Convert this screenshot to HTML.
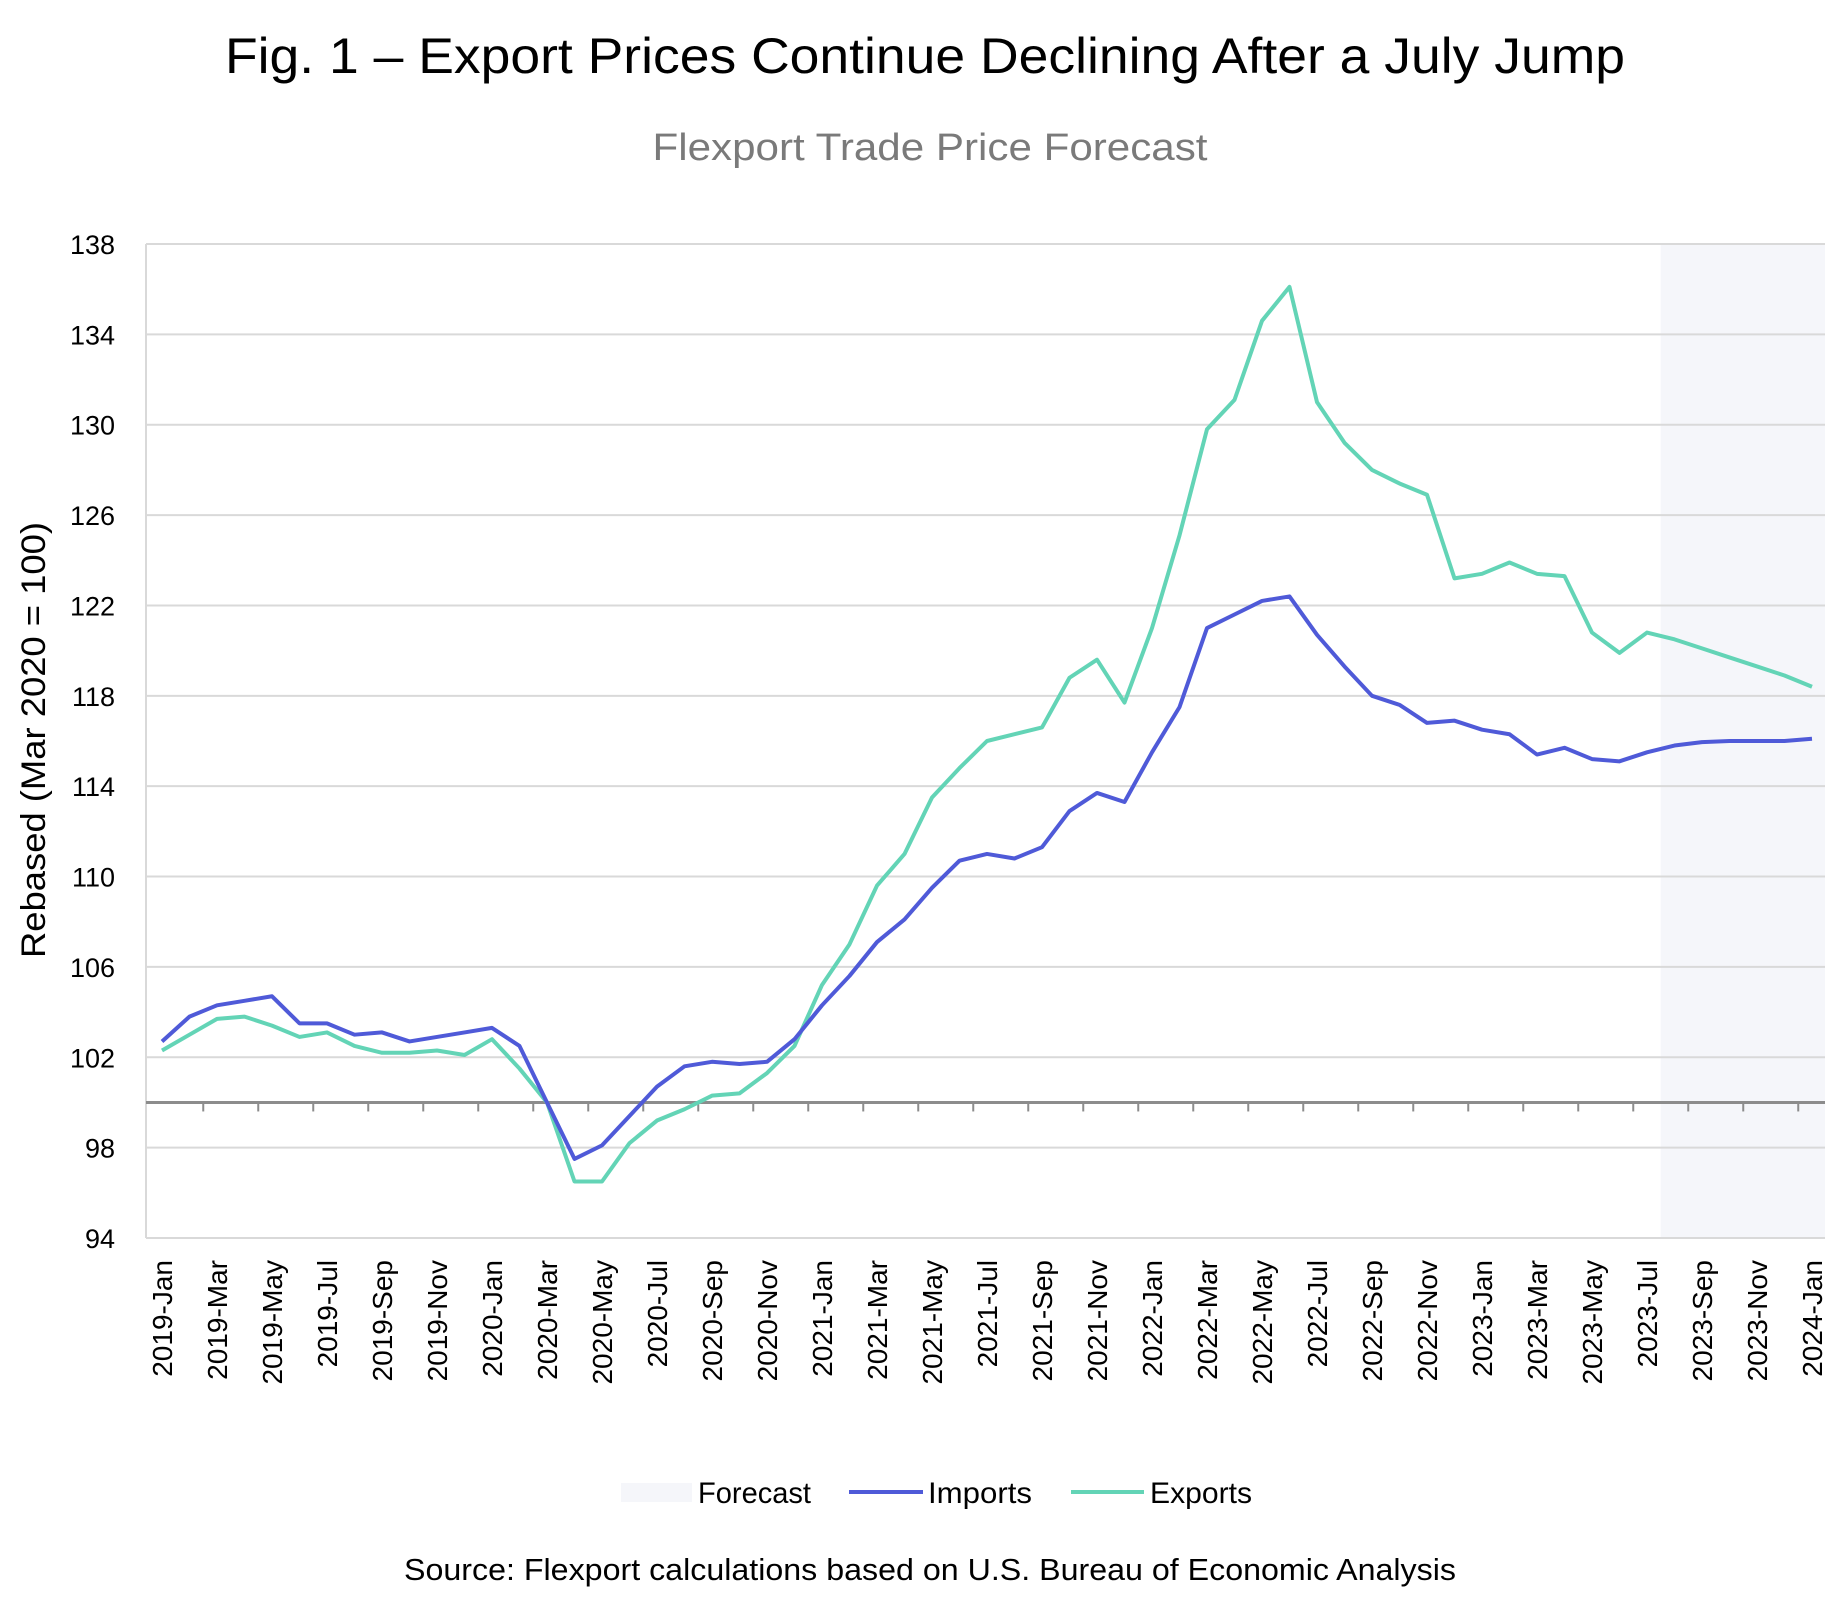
<!DOCTYPE html>
<html><head><meta charset="utf-8"><style>
html,body{margin:0;padding:0;background:#fff;}
svg{display:block;font-family:"Liberation Sans",sans-serif;}
</style></head><body>
<svg id="chart" width="1845" height="1602" viewBox="0 0 1845 1602">
<text x="925" y="73" text-anchor="middle" font-size="50" fill="#000" textLength="1400" lengthAdjust="spacingAndGlyphs">Fig. 1 – Export Prices Continue Declining After a July Jump</text>
<text x="930" y="160" text-anchor="middle" font-size="38" fill="#7a7a7a" textLength="555" lengthAdjust="spacingAndGlyphs">Flexport Trade Price Forecast</text>
<g id="plot"></g>
<text transform="translate(45,740) rotate(-90)" text-anchor="middle" font-size="34" fill="#000" textLength="436" lengthAdjust="spacingAndGlyphs">Rebased (Mar 2020 = 100)</text>
<g>
<rect x="621" y="1483" width="71" height="19" fill="#f5f6fa"/>
<text x="698" y="1503" font-size="30" fill="#000" textLength="113" lengthAdjust="spacingAndGlyphs">Forecast</text>
<line x1="849" y1="1492" x2="923" y2="1492" stroke="#4f5ad8" stroke-width="4"/>
<text x="928" y="1503" font-size="30" fill="#000" textLength="104" lengthAdjust="spacingAndGlyphs">Imports</text>
<line x1="1071" y1="1492" x2="1144" y2="1492" stroke="#63d4b6" stroke-width="4"/>
<text x="1150" y="1503" font-size="30" fill="#000" textLength="102" lengthAdjust="spacingAndGlyphs">Exports</text>
</g>
<text x="930" y="1580" text-anchor="middle" font-size="31" fill="#000" textLength="1052" lengthAdjust="spacingAndGlyphs">Source: Flexport calculations based on U.S. Bureau of Economic Analysis</text>
</svg>
<script>
const imports = [102.7,103.8,104.3,104.5,104.7,103.5,103.5,103.0,103.1,102.7,102.9,103.1,103.3,102.5,100,97.5,98.1,99.4,100.7,101.6,101.8,101.7,101.8,102.8,104.3,105.6,107.1,108.1,109.5,110.7,111.0,110.8,111.3,112.9,113.7,113.3,115.5,117.5,121.0,121.6,122.2,122.4,120.7,119.3,118.0,117.6,116.8,116.9,116.5,116.3,115.4,115.7,115.2,115.1,115.5,115.8,115.95,116.0,116.0,116.0,116.1];
const exports_ = [102.3,103.0,103.7,103.8,103.4,102.9,103.1,102.5,102.2,102.2,102.3,102.1,102.8,101.5,100,96.5,96.5,98.2,99.2,99.7,100.3,100.4,101.3,102.5,105.2,107.0,109.6,111.0,113.5,114.8,116.0,116.3,116.6,118.8,119.6,117.7,121.0,125.1,129.8,131.1,134.6,136.1,131.0,129.2,128.0,127.4,126.9,123.2,123.4,123.9,123.4,123.3,120.8,119.9,120.8,120.5,120.1,119.7,119.3,118.9,118.4];
const yTicks = [94,98,102,106,110,114,118,122,126,130,134,138];
const forecastStart = 54.5;
const months = ["Jan","Feb","Mar","Apr","May","Jun","Jul","Aug","Sep","Oct","Nov","Dec"];

const NS = "http://www.w3.org/2000/svg";
const L = 146, R = 1825, T = 244, B = 1238, x0 = 162, x1 = 1812;
const n = imports.length;
function xs(i){ return x0 + (x1 - x0) * i / (n - 1); }
function ys(v){ return B - (v - 94) / (138 - 94) * (B - T); }
const g = document.getElementById('plot');
function mk(tag, attrs){ const e = document.createElementNS(NS, tag); for (const k in attrs) e.setAttribute(k, attrs[k]); g.appendChild(e); return e; }

let e = mk('rect', {x: xs(forecastStart), y: T, width: R - xs(forecastStart), height: B - T, fill: '#f5f6fa'});



yTicks.forEach(v => {
  const l = mk('line', {x1: L, x2: R, y1: ys(v), y2: ys(v), stroke: '#d9d9d9', 'stroke-width': 2});
  
  
  const t = mk('text', {x: 115, y: ys(v) + 10, 'text-anchor': 'end', 'font-size': 27, fill: '#000'});
  t.textContent = v;
  
  
});
e = mk('line', {x1: L, x2: L, y1: T, y2: B, stroke: '#d9d9d9', 'stroke-width': 2});



e = mk('line', {x1: L, x2: R, y1: ys(100), y2: ys(100), stroke: '#8c8c8c', 'stroke-width': 3});


for (let k = 1; k < n; k += 2) {
  const tx = xs(k + 0.5);
  if (tx > R) break;
  const tk = mk('line', {x1: tx, x2: tx, y1: ys(100), y2: ys(100) + 9, stroke: '#8c8c8c', 'stroke-width': 2});
  
  
}
for (let i = 0; i < n; i += 2) {
  const lab = (2019 + Math.floor(i / 12)) + '-' + months[i % 12];
  const t = mk('text', {transform: 'translate(' + (xs(i) + 10) + ',1260) rotate(-90)', 'text-anchor': 'end', 'font-size': 28, fill: '#000'});
  t.textContent = lab;
  
  
}
function series(arr, color, name){
  const p = mk('polyline', {points: arr.map((v, i) => xs(i) + ',' + ys(v)).join(' '), fill: 'none', stroke: color, 'stroke-width': 4, 'stroke-linejoin': 'round'});
  
  
}
series(exports_, '#63d4b6', 'exports-line');
series(imports, '#4f5ad8', 'imports-line');
</script>
</body></html>
